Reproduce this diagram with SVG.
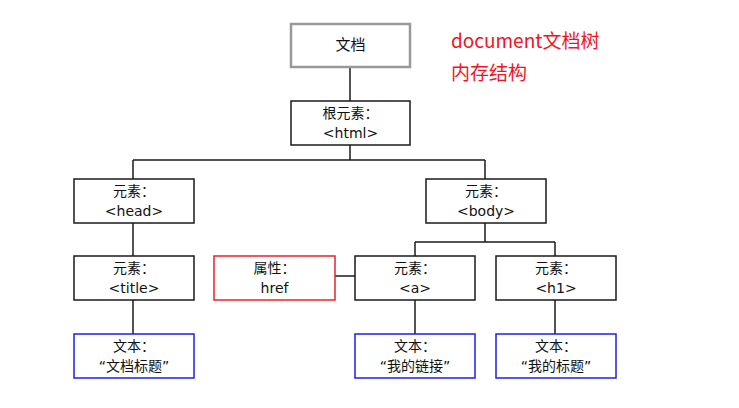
<svg xmlns="http://www.w3.org/2000/svg" width="739" height="408" viewBox="0 0 739 408">
<style>
.box{fill:#fff;stroke:#1a1a1a;stroke-width:1.5}
.doc{fill:#fff;stroke:#999;stroke-width:2.5}
.attr{fill:#fff;stroke:#e8242a;stroke-width:1.5}
.txt{fill:#fff;stroke:#1f1fe6;stroke-width:1.5}
.lbl{font-family:"DejaVu Sans","Noto Sans CJK SC",sans-serif;font-size:14px;fill:#111;text-anchor:middle}
.red{font-family:"Noto Sans CJK SC",sans-serif;font-size:19px;fill:#f0141e}
.conn line{stroke:#1a1a1a;stroke-width:1.5}
</style>
<rect width="739" height="408" fill="#fff"/>
<g class="conn">
<line x1="350" y1="67" x2="350" y2="101"/>
<line x1="350" y1="145" x2="350" y2="160"/>
<line x1="133" y1="160" x2="485" y2="160"/>
<line x1="133" y1="160" x2="133" y2="179"/>
<line x1="485" y1="160" x2="485" y2="179"/>
<line x1="133" y1="223" x2="133" y2="256"/>
<line x1="485" y1="223" x2="485" y2="242"/>
<line x1="415" y1="242" x2="555" y2="242"/>
<line x1="415" y1="242" x2="415" y2="256"/>
<line x1="555" y1="242" x2="555" y2="256"/>
<line x1="335" y1="276" x2="355" y2="276"/>
<line x1="133" y1="300" x2="133" y2="334"/>
<line x1="415" y1="300" x2="415" y2="334"/>
<line x1="555" y1="300" x2="555" y2="334"/>
</g>
<g id="document"><rect class="doc" x="291" y="24" width="119" height="43"/><text class="lbl" x="350.5" y="50" style="font-size:15px">文档</text></g>
<g id="note"><text class="red" x="451" y="48">document文档树</text><text class="red" x="451" y="80">内存结构</text></g>
<g id="html"><rect class="box" x="291" y="101" width="119" height="44"/><text class="lbl" x="350.5" y="118">根元素：</text><text class="lbl" x="350.5" y="138">&lt;html&gt;</text></g>
<g id="head"><rect class="box" x="74" y="179" width="120" height="44"/><text class="lbl" x="134" y="196">元素：</text><text class="lbl" x="134" y="216">&lt;head&gt;</text></g>
<g id="body"><rect class="box" x="426" y="179" width="120" height="44"/><text class="lbl" x="486" y="196">元素：</text><text class="lbl" x="486" y="216">&lt;body&gt;</text></g>
<g id="title"><rect class="box" x="74" y="256" width="120" height="44"/><text class="lbl" x="134" y="273">元素：</text><text class="lbl" x="134" y="293">&lt;title&gt;</text></g>
<g id="href"><rect class="attr" x="214" y="256" width="121" height="44"/><text class="lbl" x="274.5" y="273">属性：</text><text class="lbl" x="274.5" y="293">href</text></g>
<g id="a"><rect class="box" x="355" y="256" width="120" height="44"/><text class="lbl" x="415" y="273">元素：</text><text class="lbl" x="415" y="293">&lt;a&gt;</text></g>
<g id="h1"><rect class="box" x="496" y="256" width="120" height="44"/><text class="lbl" x="556" y="273">元素：</text><text class="lbl" x="556" y="293">&lt;h1&gt;</text></g>
<g id="text-title"><rect class="txt" x="74" y="334" width="120" height="44"/><text class="lbl" x="134" y="351">文本：</text><text class="lbl" x="134" y="371">“文档标题”</text></g>
<g id="text-a"><rect class="txt" x="355" y="334" width="120" height="44"/><text class="lbl" x="415" y="351">文本：</text><text class="lbl" x="415" y="371">“我的链接”</text></g>
<g id="text-h1"><rect class="txt" x="496" y="334" width="120" height="44"/><text class="lbl" x="556" y="351">文本：</text><text class="lbl" x="556" y="371">“我的标题”</text></g>
</svg>
